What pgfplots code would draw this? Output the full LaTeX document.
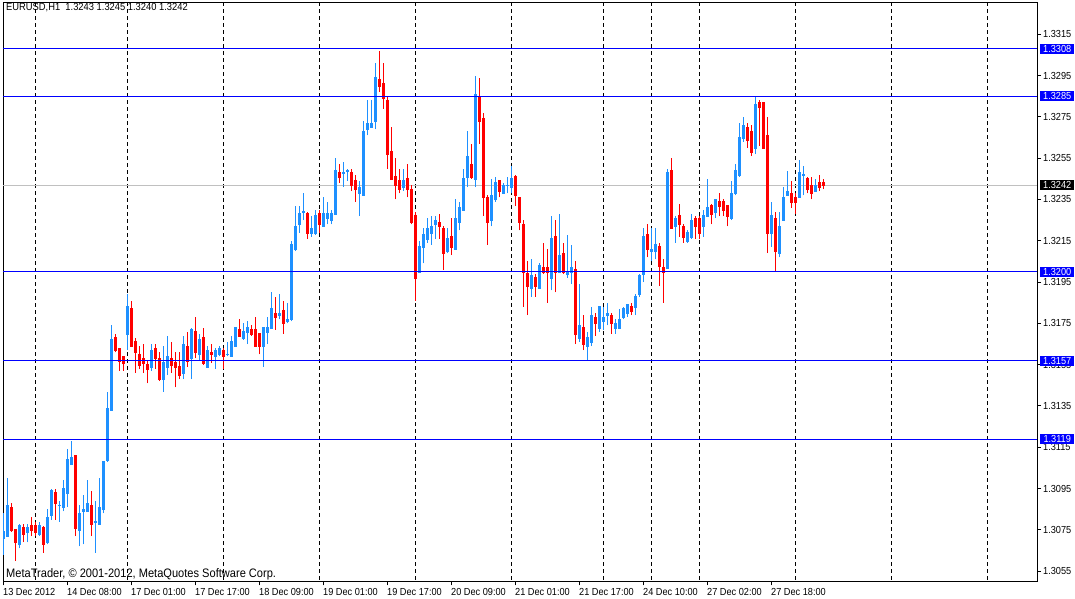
\documentclass[border=0pt]{standalone}
\usepackage{pgfplots}
\pgfplotsset{compat=1.18}
\usepackage{pgfplotstable}
\usepackage{fontspec}
\setmainfont{Liberation Sans}[FakeStretch=0.9]
\definecolor{bull}{HTML}{1E90FF}
\definecolor{bear}{HTML}{FF0000}
\definecolor{lvl}{HTML}{0000FF}
\definecolor{bidc}{HTML}{C0C0C0}
\newcommand\tf{\fontsize{10.2}{12}\selectfont}

\pgfplotstableread{
i o h l c
0 1.3071 1.3083 1.3063 1.3074
1 1.3072 1.3100 1.3072 1.3087
4 1.3068 1.3078 1.3066 1.3077
6 1.3074 1.3078 1.3069 1.3076
9 1.3073 1.3079 1.3072 1.3077
11 1.3069 1.3085 1.3068 1.3081
12 1.3082 1.3095 1.3080 1.3094
14 1.3087 1.3089 1.3079 1.3087
15 1.3086 1.3099 1.3084 1.3095
16 1.3093 1.3114 1.3086 1.3109
17 1.3107 1.3118 1.3107 1.3110
19 1.3075 1.3087 1.3067 1.3083
20 1.3084 1.3092 1.3068 1.3085
21 1.3084 1.3099 1.3084 1.3088
23 1.3079 1.3089 1.3064 1.3079
24 1.3078 1.3100 1.3078 1.3086
25 1.3085 1.3108 1.3083 1.3108
26 1.3109 1.3142 1.3108 1.3134
27 1.3133 1.3174 1.3133 1.3167
31 1.3170 1.3189 1.3162 1.3183
37 1.3154 1.3165 1.3152 1.3162
40 1.3148 1.3164 1.3142 1.3156
41 1.3154 1.3169 1.3150 1.3159
45 1.3151 1.3169 1.3148 1.3165
47 1.3158 1.3173 1.3148 1.3172
49 1.3160 1.3170 1.3157 1.3167
51 1.3154 1.3164 1.3154 1.3162
53 1.3159 1.3163 1.3153 1.3162
54 1.3160 1.3164 1.3159 1.3163
56 1.3160 1.3166 1.3159 1.3160
57 1.3159 1.3169 1.3159 1.3166
58 1.3164 1.3173 1.3164 1.3173
60 1.3168 1.3175 1.3167 1.3171
61 1.3171 1.3176 1.3165 1.3173
65 1.3164 1.3173 1.3154 1.3173
66 1.3171 1.3178 1.3165 1.3173
67 1.3173 1.3190 1.3173 1.3182
69 1.3179 1.3189 1.3177 1.3180
71 1.3176 1.3185 1.3175 1.3177
72 1.3177 1.3215 1.3176 1.3213
73 1.3211 1.3232 1.3210 1.3222
74 1.3223 1.3232 1.3219 1.3228
75 1.3229 1.3238 1.3225 1.3229
77 1.3219 1.3227 1.3217 1.3221
78 1.3219 1.3230 1.3218 1.3227
80 1.3222 1.3236 1.3222 1.3228
81 1.3226 1.3234 1.3223 1.3228
82 1.3225 1.3230 1.3223 1.3228
83 1.3228 1.3255 1.3228 1.3249
85 1.3248 1.3253 1.3241 1.3248
86 1.3249 1.3250 1.3244 1.3249
89 1.3238 1.3244 1.3227 1.3241
90 1.3237 1.3273 1.3237 1.3268
91 1.3269 1.3283 1.3266 1.3272
92 1.3270 1.3283 1.3270 1.3272
93 1.3273 1.3301 1.3269 1.3294
100 1.3241 1.3250 1.3239 1.3244
104 1.3200 1.3215 1.3200 1.3212
105 1.3212 1.3221 1.3204 1.3218
106 1.3216 1.3226 1.3214 1.3221
107 1.3219 1.3227 1.3213 1.3222
108 1.3223 1.3227 1.3216 1.3225
111 1.3210 1.3221 1.3209 1.3216
113 1.3211 1.3235 1.3211 1.3226
114 1.3224 1.3234 1.3220 1.3231
115 1.3230 1.3250 1.3230 1.3245
116 1.3246 1.3268 1.3241 1.3256
118 1.3245 1.3295 1.3241 1.3286
122 1.3225 1.3245 1.3222 1.3237
123 1.3235 1.3246 1.3234 1.3243
125 1.3238 1.3243 1.3238 1.3242
126 1.3242 1.3246 1.3238 1.3242
127 1.3241 1.3251 1.3238 1.3245
132 1.3192 1.3206 1.3188 1.3198
134 1.3192 1.3204 1.3192 1.3203
137 1.3197 1.3227 1.3191 1.3216
139 1.3200 1.3228 1.3200 1.3208
141 1.3199 1.3218 1.3197 1.3200
142 1.3200 1.3213 1.3194 1.3202
144 1.3168 1.3194 1.3166 1.3174
146 1.3164 1.3171 1.3157 1.3168
147 1.3166 1.3183 1.3164 1.3179
149 1.3173 1.3183 1.3171 1.3183
150 1.3176 1.3183 1.3172 1.3178
151 1.3179 1.3185 1.3174 1.3180
153 1.3173 1.3177 1.3170 1.3175
154 1.3173 1.3182 1.3173 1.3177
155 1.3178 1.3183 1.3177 1.3182
156 1.3180 1.3184 1.3178 1.3184
158 1.3183 1.3189 1.3179 1.3188
159 1.3189 1.3199 1.3188 1.3198
160 1.3199 1.3221 1.3195 1.3217
162 1.3210 1.3221 1.3205 1.3211
163 1.3210 1.3221 1.3206 1.3213
166 1.3202 1.3250 1.3202 1.3248
168 1.3222 1.3227 1.3214 1.3226
171 1.3215 1.3220 1.3214 1.3219
172 1.3217 1.3228 1.3216 1.3225
175 1.3222 1.3230 1.3217 1.3227
176 1.3227 1.3245 1.3227 1.3231
178 1.3229 1.3235 1.3226 1.3235
182 1.3226 1.3244 1.3225 1.3238
183 1.3238 1.3252 1.3237 1.3249
184 1.3247 1.3272 1.3246 1.3265
185 1.3265 1.3275 1.3263 1.3271
188 1.3260 1.3285 1.3257 1.3281
192 1.3219 1.3234 1.3212 1.3227
194 1.3209 1.3229 1.3207 1.3222
195 1.3225 1.3241 1.3225 1.3236
196 1.3237 1.3249 1.3237 1.3239
199 1.3236 1.3254 1.3236 1.3248
200 1.3247 1.3251 1.3237 1.3247
203 1.3239 1.3245 1.3239 1.3242
}\bulltab

\pgfplotstableread{
i o h l c
2 1.3086 1.3088 1.3074 1.3075
3 1.3075 1.3075 1.3060 1.3069
5 1.3076 1.3078 1.3069 1.3073
7 1.3077 1.3081 1.3072 1.3075
8 1.3077 1.3079 1.3072 1.3074
10 1.3076 1.3077 1.3064 1.3068
13 1.3093 1.3095 1.3080 1.3088
18 1.3111 1.3111 1.3072 1.3076
22 1.3087 1.3094 1.3072 1.3078
28 1.3168 1.3170 1.3161 1.3162
29 1.3163 1.3163 1.3152 1.3157
30 1.3159 1.3159 1.3152 1.3156
32 1.3182 1.3186 1.3164 1.3164
33 1.3166 1.3168 1.3151 1.3161
34 1.3160 1.3164 1.3153 1.3155
35 1.3158 1.3165 1.3151 1.3156
36 1.3155 1.3157 1.3146 1.3153
38 1.3163 1.3165 1.3153 1.3158
39 1.3158 1.3161 1.3147 1.3148
42 1.3158 1.3166 1.3151 1.3155
43 1.3156 1.3161 1.3144 1.3154
44 1.3154 1.3161 1.3148 1.3150
46 1.3164 1.3171 1.3154 1.3157
48 1.3171 1.3178 1.3158 1.3161
50 1.3168 1.3173 1.3155 1.3156
52 1.3161 1.3165 1.3156 1.3160
55 1.3162 1.3163 1.3153 1.3159
59 1.3172 1.3177 1.3169 1.3169
62 1.3172 1.3174 1.3169 1.3170
63 1.3172 1.3178 1.3164 1.3164
64 1.3170 1.3170 1.3160 1.3164
68 1.3180 1.3188 1.3172 1.3178
70 1.3181 1.3186 1.3170 1.3175
76 1.3228 1.3229 1.3216 1.3219
79 1.3228 1.3230 1.3219 1.3223
84 1.3248 1.3252 1.3243 1.3246
87 1.3248 1.3250 1.3239 1.3242
88 1.3244 1.3247 1.3234 1.3240
94 1.3293 1.3307 1.3287 1.3290
95 1.3291 1.3301 1.3279 1.3284
96 1.3283 1.3285 1.3250 1.3257
97 1.3258 1.3270 1.3245 1.3245
98 1.3246 1.3255 1.3235 1.3242
99 1.3244 1.3250 1.3238 1.3240
101 1.3245 1.3252 1.3236 1.3240
102 1.3240 1.3242 1.3223 1.3224
103 1.3227 1.3229 1.3186 1.3197
109 1.3224 1.3228 1.3216 1.3222
110 1.3221 1.3222 1.3201 1.3209
112 1.3217 1.3226 1.3208 1.3212
117 1.3252 1.3262 1.3245 1.3246
119 1.3285 1.3294 1.3262 1.3273
120 1.3274 1.3277 1.3227 1.3236
121 1.3236 1.3237 1.3213 1.3224
124 1.3244 1.3244 1.3236 1.3239
128 1.3246 1.3247 1.3232 1.3237
129 1.3236 1.3236 1.3220 1.3224
130 1.3223 1.3225 1.3183 1.3200
131 1.3199 1.3205 1.3179 1.3193
133 1.3197 1.3199 1.3188 1.3193
135 1.3202 1.3214 1.3199 1.3200
136 1.3202 1.3211 1.3185 1.3200
138 1.3217 1.3225 1.3190 1.3200
140 1.3209 1.3214 1.3199 1.3200
143 1.3201 1.3205 1.3165 1.3170
145 1.3173 1.3179 1.3162 1.3165
148 1.3178 1.3180 1.3169 1.3175
152 1.3179 1.3180 1.3170 1.3175
157 1.3183 1.3185 1.3179 1.3181
161 1.3218 1.3223 1.3207 1.3211
164 1.3212 1.3214 1.3193 1.3203
165 1.3202 1.3206 1.3185 1.3200
167 1.3249 1.3255 1.3221 1.3221
169 1.3227 1.3233 1.3217 1.3223
170 1.3222 1.3223 1.3214 1.3217
173 1.3226 1.3227 1.3216 1.3222
174 1.3226 1.3227 1.3216 1.3219
177 1.3232 1.3233 1.3223 1.3228
179 1.3234 1.3238 1.3227 1.3232
180 1.3234 1.3235 1.3227 1.3230
181 1.3232 1.3232 1.3222 1.3227
186 1.3270 1.3272 1.3260 1.3264
187 1.3268 1.3271 1.3256 1.3258
189 1.3282 1.3283 1.3261 1.3280
190 1.3282 1.3282 1.3260 1.3260
191 1.3266 1.3275 1.3209 1.3219
193 1.3226 1.3229 1.3200 1.3210
197 1.3238 1.3244 1.3231 1.3234
198 1.3236 1.3238 1.3228 1.3234
201 1.3245 1.3246 1.3238 1.3240
202 1.3242 1.3246 1.3235 1.3238
204 1.3243 1.3247 1.3239 1.3241
205 1.3243 1.3245 1.3240 1.3242
}\beartab

\begin{document}
\begin{tikzpicture}
\fill[white] (0pt,0pt) rectangle (1075pt,599pt);
\useasboundingbox (0pt,0pt) rectangle (1075pt,599pt);
\begin{axis}[
  at={(3pt,17.5pt)}, anchor=south west, scale only axis,
  width=1034pt, height=579pt,
  xmin=0, xmax=258.5, ymin=1.30500, ymax=1.33304,
  axis line style={black, line width=1pt},
  xtick pos=bottom, ytick pos=right, yticklabel pos=right,
  tick align=outside, major tick length=4pt,
  tick style={black, line width=1pt},
  xtick={0,16,32,48,64,80,96,112,128,144,160,176,192},
  xticklabels={13 Dec 2012,14 Dec 08:00,17 Dec 01:00,17 Dec 17:00,18 Dec 09:00,19 Dec 01:00,19 Dec 17:00,20 Dec 09:00,21 Dec 01:00,21 Dec 17:00,24 Dec 10:00,27 Dec 02:00,27 Dec 18:00},
  ytick={1.3055,1.3075,1.3095,1.3115,1.3135,1.3155,1.3175,1.3195,1.3215,1.3235,1.3255,1.3275,1.3295,1.3315},
  yticklabels={1.3055,1.3075,1.3095,1.3115,1.3135,1.3155,1.3175,1.3195,1.3215,1.3235,1.3255,1.3275,1.3295,1.3315},
  xticklabel style={anchor=north west, inner sep=0pt, font=\tf, yshift=-3pt},
  yticklabel style={anchor=west, inner sep=0pt, font=\tf, xshift=2pt},
  clip=true,
]
% day separators
\pgfplotsinvokeforeach{8,31,55,79,103,127,150,162,174,198,222,246}{
  \addplot[black, line width=1pt, dash pattern=on 4pt off 3pt, forget plot] coordinates {(#1,1.33304) (#1,1.30500)};
}
% bid line
\addplot[bidc, line width=1pt, forget plot] coordinates {(0,1.3242) (258.5,1.3242)};
% wicks
\addplot[draw=none, forget plot, error bars/.cd, y dir=plus, y explicit, error mark=none,
  error bar style={draw=bull, line width=1pt}]
  table[x=i, y=l, y error expr=\thisrow{h}-\thisrow{l}] {\bulltab};
\addplot[draw=none, forget plot, error bars/.cd, y dir=plus, y explicit, error mark=none,
  error bar style={draw=bear, line width=1pt}]
  table[x=i, y=l, y error expr=\thisrow{h}-\thisrow{l}] {\beartab};
% bodies
\addplot[draw=none, forget plot, error bars/.cd, y dir=both, y explicit, error mark=none,
  error bar style={draw=bull, line width=3pt}]
  table[x=i, y=o, y error plus expr=\thisrow{c}-\thisrow{o}+0.000025, y error minus expr=0.000025] {\bulltab};
\addplot[draw=none, forget plot, error bars/.cd, y dir=both, y explicit, error mark=none,
  error bar style={draw=bear, line width=3pt}]
  table[x=i, y=c, y error plus expr=\thisrow{o}-\thisrow{c}+0.000025, y error minus expr=0.000025] {\beartab};
% levels
\addplot[draw=lvl, line width=1pt, forget plot] coordinates {(0,1.3308) (258.5,1.3308)};
\addplot[draw=lvl, line width=1pt, forget plot] coordinates {(0,1.3285) (258.5,1.3285)};
\addplot[draw=lvl, line width=1pt, forget plot] coordinates {(0,1.3200) (258.5,1.3200)};
\addplot[draw=lvl, line width=1pt, forget plot] coordinates {(0,1.3157) (258.5,1.3157)};
\addplot[draw=lvl, line width=1pt, forget plot] coordinates {(0,1.3119) (258.5,1.3119)};
\coordinate (q1) at (axis cs:258.5,1.3308);
\coordinate (q2) at (axis cs:258.5,1.3285);
\coordinate (q3) at (axis cs:258.5,1.3200);
\coordinate (q4) at (axis cs:258.5,1.3157);
\coordinate (q5) at (axis cs:258.5,1.3119);
\coordinate (qb) at (axis cs:258.5,1.3242);
\end{axis}
\tikzset{lbox/.style={anchor=west, text=white, minimum width=34pt, minimum height=10pt, inner sep=0pt, font=\tf}}
\node[lbox, fill=lvl] at ([xshift=3pt]q1) {1.3308};
\node[lbox, fill=lvl] at ([xshift=3pt]q2) {1.3285};
\node[lbox, fill=lvl] at ([xshift=3pt]q3) {1.3200};
\node[lbox, fill=lvl] at ([xshift=3pt]q4) {1.3157};
\node[lbox, fill=lvl] at ([xshift=3pt]q5) {1.3119};
\node[lbox, fill=black] at ([xshift=3pt]qb) {1.3242};
\node[anchor=base west, inner sep=0pt, font=\fontsize{10.4}{12}\selectfont] at (6pt,588pt) {EURUSD,H1\ \ 1.3243 1.3245 1.3240 1.3242};
\node[anchor=base west, inner sep=0pt, font=\fontsize{12.3}{14}\selectfont] at (6pt,21.5pt) {MetaTrader, © 2001-2012, MetaQuotes Software Corp.};
\end{tikzpicture}
\end{document}
